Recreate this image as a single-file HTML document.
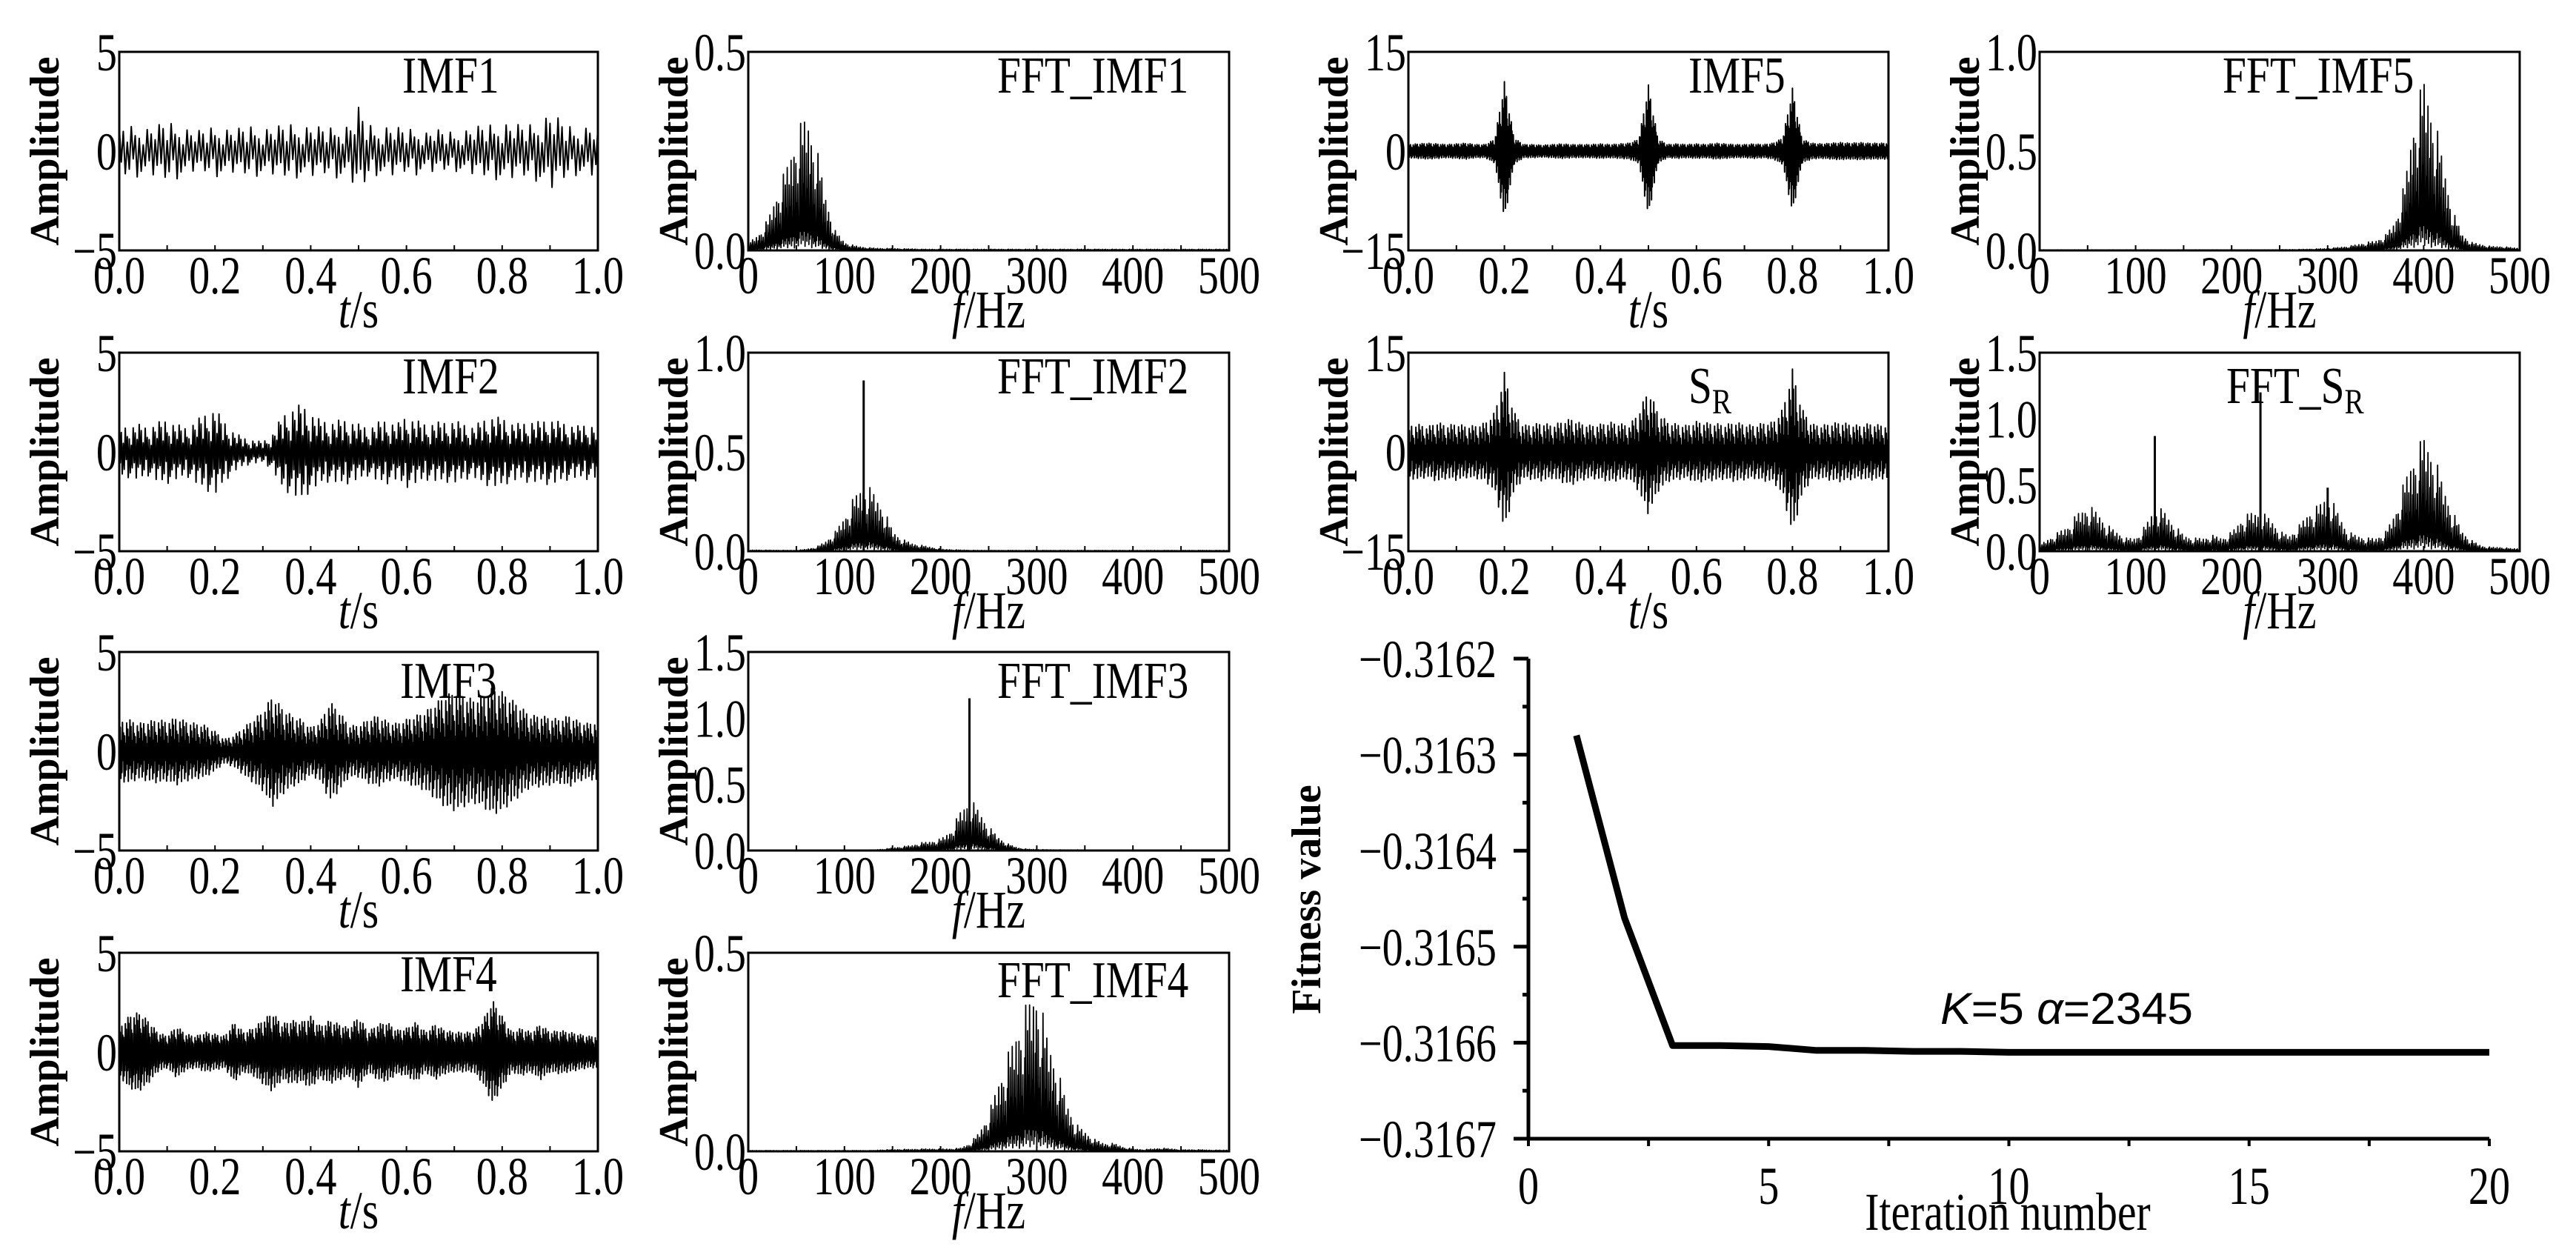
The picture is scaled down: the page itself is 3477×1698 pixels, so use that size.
<!DOCTYPE html>
<html><head><meta charset="utf-8"><style>
html,body{margin:0;padding:0;background:#fff}
svg{display:block}
text{font-family:"Liberation Serif",serif;fill:#000}
</style></head><body>
<svg id="fig" width="3477" height="1698" viewBox="0 0 3477 1698" xmlns="http://www.w3.org/2000/svg"></svg>
<script>
// ---- time-domain envelopes (t = 0..1, step 0.02), amplitude units ----
const envIMF1=[1.2,1.3,1.3,1.2,1.3,1.5,1.4,1.2,1.0,1.1,1.3,1.2,1.1,1.2,1.3,1.2,1.2,1.3,1.4,1.3,1.3,1.2,1.2,1.4,1.3,2.2,1.4,1.2,1.3,1.2,1.1,1.2,1.0,1.1,1.0,1.0,1.1,1.2,1.3,1.4,1.5,1.4,1.3,1.4,1.6,2.0,1.6,1.3,1.2,1.3,1.2];
const envIMF2=[1.2,1.3,1.4,1.2,1.5,1.6,1.4,1.2,1.6,1.9,2.2,1.5,1.0,0.7,0.6,0.5,0.9,1.8,2.2,2.4,2.0,1.6,1.5,1.6,1.6,1.4,1.2,1.5,1.6,1.4,1.8,1.6,1.4,1.5,1.5,1.6,1.4,1.3,1.6,1.8,1.7,1.5,1.4,1.6,1.5,1.7,1.5,1.4,1.3,1.4,1.3];
const envIMF3=[1.5,1.6,1.4,1.5,1.6,1.5,1.7,1.5,1.4,1.3,1.0,0.6,0.8,1.2,1.6,2.0,2.8,2.2,1.8,1.6,1.2,1.5,2.5,2.0,1.3,1.3,1.6,1.8,1.5,1.4,1.6,1.8,2.0,2.4,2.8,3.0,2.8,2.6,2.8,3.2,3.0,2.6,2.2,1.8,1.8,1.7,1.6,1.8,1.5,1.4,1.5];
const envIMF4=[1.2,1.8,2.0,1.6,1.0,0.8,1.3,0.9,0.8,1.0,0.9,0.8,1.5,1.0,1.2,1.6,2.0,1.4,1.6,1.5,1.8,1.3,1.6,1.4,1.2,1.8,1.0,1.4,1.5,1.1,1.2,1.5,1.0,1.4,1.1,1.0,1.0,1.0,1.6,2.6,1.8,1.0,1.2,1.0,1.4,1.0,1.1,1.0,0.9,0.8,0.8];
const envIMF5=[1.0,1.1,1.2,1.1,1.0,1.1,1.2,1.0,1.0,1.8,10.5,2.0,1.0,1.0,0.9,1.0,1.1,1.0,1.0,1.0,1.1,1.0,1.1,1.2,1.8,10.0,1.8,1.0,1.1,1.0,1.1,1.0,1.2,1.1,1.0,1.0,1.1,1.0,1.2,2.0,9.5,1.8,1.2,1.1,1.2,1.3,1.2,1.3,1.2,1.2,1.2];
const envSR=[4.0,4.2,3.8,4.5,4.0,4.3,3.9,4.0,4.4,6.0,12.0,6.0,4.0,4.2,4.4,4.0,4.6,5.0,4.3,4.0,4.2,4.5,4.3,4.0,6.0,9.5,6.0,4.5,4.2,4.0,4.6,4.4,4.3,4.1,4.5,4.2,4.0,4.4,4.5,6.5,12.5,6.5,4.2,4.0,4.3,4.5,4.2,4.0,4.3,4.1,4.0];
// ---- spectra envelopes (f = 0..500 Hz, step 10) ----
const specIMF1=[0.02,0.04,0.08,0.15,0.22,0.3,0.35,0.27,0.14,0.05,0.02,0.012,0.008,0.006,0.005,0.005,0.004,0.004,0.003,0.003,0.003,0.003,0.003,0.003,0.003,0.003,0.003,0.003,0.003,0.003,0.003,0.003,0.003,0.003,0.003,0.003,0.003,0.003,0.003,0.003,0.003,0.003,0.003,0.003,0.003,0.003,0.003,0.003,0.003,0.003,0.003];
const specIMF2=[0.005,0.006,0.005,0.005,0.004,0.004,0.01,0.02,0.05,0.1,0.18,0.28,0.35,0.3,0.22,0.1,0.06,0.04,0.03,0.02,0.01,0.008,0.006,0.005,0.004,0.004,0.004,0.004,0.004,0.004,0.004,0.004,0.004,0.004,0.004,0.004,0.004,0.004,0.004,0.004,0.004,0.004,0.004,0.004,0.004,0.004,0.004,0.004,0.004,0.004,0.004];
const specIMF3=[0.003,0.003,0.003,0.003,0.003,0.003,0.003,0.003,0.003,0.003,0.003,0.003,0.003,0.005,0.01,0.02,0.03,0.04,0.06,0.07,0.09,0.15,0.3,0.4,0.3,0.18,0.1,0.05,0.02,0.01,0.008,0.006,0.005,0.005,0.005,0.004,0.004,0.004,0.003,0.003,0.003,0.003,0.003,0.003,0.003,0.003,0.003,0.003,0.003,0.003,0.003];
const specIMF4=[0.002,0.002,0.002,0.002,0.002,0.002,0.002,0.002,0.002,0.002,0.002,0.002,0.002,0.002,0.004,0.004,0.005,0.005,0.006,0.006,0.006,0.006,0.008,0.02,0.05,0.1,0.18,0.25,0.32,0.38,0.42,0.3,0.22,0.13,0.07,0.05,0.03,0.02,0.02,0.01,0.006,0.004,0.006,0.008,0.006,0.004,0.004,0.004,0.003,0.003,0.003];
const specIMF5=[0.003,0.003,0.003,0.003,0.003,0.003,0.003,0.003,0.003,0.003,0.003,0.003,0.003,0.003,0.003,0.003,0.003,0.003,0.003,0.003,0.003,0.003,0.003,0.003,0.003,0.004,0.004,0.005,0.006,0.008,0.01,0.015,0.02,0.03,0.04,0.05,0.08,0.15,0.35,0.7,0.88,0.7,0.45,0.2,0.08,0.04,0.03,0.02,0.02,0.015,0.01];
const specSR=[0.05,0.1,0.15,0.2,0.3,0.35,0.3,0.2,0.15,0.1,0.1,0.2,0.35,0.3,0.2,0.12,0.1,0.1,0.12,0.1,0.15,0.25,0.3,0.3,0.25,0.15,0.12,0.2,0.3,0.35,0.45,0.3,0.15,0.12,0.1,0.1,0.15,0.3,0.55,0.75,0.88,0.75,0.5,0.3,0.15,0.08,0.04,0.03,0.03,0.02,0.02];
const spikeFreqIMF2=[120], spikeAmpIMF2=[0.86];
const spikeFreqIMF3=[230], spikeAmpIMF3=[1.15];
const spikeFreqSR=[120,230,300], spikeAmpSR=[0.87,1.2,0.48];
// ---- fitness curve ----
const iterations=[1,2,3,4,5,6,7,8,9,10,11,12,13,14,15,16,17,18,19,20];
const fitness=[-0.31628,-0.31647,-0.316603,-0.316603,-0.316604,-0.316608,-0.316608,-0.316609,-0.316609,-0.31661,-0.31661,-0.31661,-0.31661,-0.31661,-0.31661,-0.31661,-0.31661,-0.31661,-0.31661,-0.31661];
const fitTicks=[-0.3162,-0.3163,-0.3164,-0.3165,-0.3166,-0.3167];
const fitTickLabels=["\u22120.3162","\u22120.3163","\u22120.3164","\u22120.3165","\u22120.3166","\u22120.3167"];
const iterTicks=[0,5,10,15,20];
const timeTicks=[0,0.2,0.4,0.6,0.8,1.0];
const timeTickLabels=["0.0","0.2","0.4","0.6","0.8","1.0"];
const freqTicks=[0,100,200,300,400,500];
const freqTickLabels=["0","100","200","300","400","500"];

const NS="http://www.w3.org/2000/svg";
const svg=document.getElementById('fig');
function mk(tag,attrs,parent){const e=document.createElementNS(NS,tag);for(const k in attrs)e.setAttribute(k,attrs[k]);(parent||svg).appendChild(e);return e;}
// condensed text: place at (x,y) with horizontal compression
function ctxt(html,x,y,size,anchor,parent,sx,rot){
  const e=mk('text',{x:0,y:0,'font-size':size,'text-anchor':anchor||'start',
    transform:`translate(${x},${y})`+(rot?` rotate(${rot})`:'')+` scale(${sx||0.8},1)`},parent);
  e.innerHTML=html;return e;}
const jit=[1,-0.45,0.8,-0.9,0.35,-0.7,0.95,-0.3,0.6,-1,0.5,-0.8,0.25,-0.6,0.9,-0.4,0.7,-0.95,0.45,-0.55];
const sj=[1,0.35,0.8,0.5,0.95,0.2,0.7,0.45,0.9,0.3,0.6,0.85,0.15,0.75,0.4,0.55,0.25,0.65];
function interp(arr,frac){const p=frac*(arr.length-1);const i=Math.floor(p);const f=p-i;if(i>=arr.length-1)return arr[arr.length-1];return arr[i]*(1-f)+arr[i+1]*f;}

function panel(o){
  const g=mk('g',{});
  
  
  const X=v=>o.x+(v-o.xmin)/(o.xmax-o.xmin)*o.w;
  const Y=v=>o.y+o.h-(v-o.ymin)/(o.ymax-o.ymin)*o.h;
  let d='';
  if(o.type==='time'){
    const N=o.n||700;
    for(let i=0;i<=N;i++){const fr=i/N;const v=interp(o.env,fr)*jit[i%jit.length];d+=(i?'L':'M')+X(fr).toFixed(1)+' '+Y(v).toFixed(1);}
  } else {
    for(let f=0;f<=500;f++){const base=interp(o.env,f/500);const v=base*sj[f%sj.length];d+=(f?'L':'M')+X(f).toFixed(1)+' '+Y(v*0.15).toFixed(1)+'L'+X(f+0.5).toFixed(1)+' '+Y(v).toFixed(1);}
  }
  const s=mk('path',{d:d,fill:'none',stroke:'#000','stroke-width':o.type==='time'?2:1.8,'stroke-linejoin':'round'},g);
  
  
  if(o.sf){o.sf.forEach((f,k)=>{const l=mk('line',{x1:X(f),x2:X(f),y1:Y(0),y2:Y(o.sa[k]),stroke:'#000','stroke-width':3},g);
    
    });}
  const b=mk('rect',{x:o.x,y:o.y,width:o.w,height:o.h,fill:'none',stroke:'#000','stroke-width':3},g);
  
  
  const step=o.type==='time'?0.1:50;
  for(let v=o.xmin;v<=o.xmax+1e-9;v+=step){mk('line',{x1:X(v),x2:X(v),y1:o.y+o.h,y2:o.y+o.h-7,stroke:'#000','stroke-width':2},g);}
  o.xt.forEach((v,k)=>{const t=ctxt(o.xl[k],X(v),o.y+o.h+58,72,'middle',g,0.78);
    
    });
  o.yt.forEach((v,k)=>{const t=ctxt(o.yl[k],o.x-3,Y(v)+25,72,'end',g,0.78);
    
    });
  const xl=ctxt(o.type==='time'?'<tspan font-style="italic">t</tspan>/s':'<tspan font-style="italic">f</tspan>/Hz',o.x+o.w/2,o.y+o.h+104,72,'middle',g,0.8);
  
  
  const yl=mk('text',{x:0,y:0,'font-size':56,'font-weight':'bold','text-anchor':'middle',transform:`translate(${o.x-82},${o.y+o.h/2}) rotate(-90)`},g);
  yl.textContent='Amplitude';
  
  
  const tt=ctxt(o.title,o.tx,o.y+o.ty,70,'start',g,0.82);
  
  
}
const cols=[161,1010,1901,2753], widths=[646,649,648,648], rows=[70,476,880,1286], H=268;
function tp(c,r,name,env,ymax,yt,yl,title,tx,ty,sf,sa,n){
  const time=(c===0||c===2);
  panel({name:name,x:cols[c],y:rows[r],w:widths[c],h:H,type:time?'time':'freq',env:env,n:n,
    xmin:0,xmax:time?1:500,ymin:time?-ymax:0,ymax:ymax,
    xt:time?timeTicks:freqTicks,xl:time?timeTickLabels:freqTickLabels,yt:yt,yl:yl,title:title,tx:tx,ty:ty,sf:sf,sa:sa});
}
tp(0,0,'imf1-panel',envIMF1,5,[5,0,-5],['5','0','\u22125'],'IMF1',543,55,null,null,240);
tp(0,1,'imf2-panel',envIMF2,5,[5,0,-5],['5','0','\u22125'],'IMF2',543,55,null,null,480);
tp(0,2,'imf3-panel',envIMF3,5,[5,0,-5],['5','0','\u22125'],'IMF3',540,62,null,null,900);
tp(0,3,'imf4-panel',envIMF4,5,[5,0,-5],['5','0','\u22125'],'IMF4',540,52,null,null,1100);
tp(1,0,'fft-imf1-panel',specIMF1,0.5,[0.5,0],['0.5','0.0'],'FFT_IMF1',1346,55);
tp(1,1,'fft-imf2-panel',specIMF2,1.0,[1.0,0.5,0],['1.0','0.5','0.0'],'FFT_IMF2',1346,55,spikeFreqIMF2,spikeAmpIMF2);
tp(1,2,'fft-imf3-panel',specIMF3,1.5,[1.5,1.0,0.5,0],['1.5','1.0','0.5','0.0'],'FFT_IMF3',1346,62,spikeFreqIMF3,spikeAmpIMF3);
tp(1,3,'fft-imf4-panel',specIMF4,0.5,[0.5,0],['0.5','0.0'],'FFT_IMF4',1346,60);
tp(2,0,'imf5-panel',envIMF5,15,[15,0,-15],['15','0','\u221215'],'IMF5',2279,55,null,null,1400);
tp(2,1,'sr-panel',envSR,15,[15,0,-15],['15','0','\u221215'],'S<tspan font-size="48" dy="14">R</tspan>',2279,68,null,null,900);
tp(3,0,'fft-imf5-panel',specIMF5,1.0,[1.0,0.5,0],['1.0','0.5','0.0'],'FFT_IMF5',3000,55);
tp(3,1,'fft-sr-panel',specSR,1.5,[1.5,1.0,0.5,0],['1.5','1.0','0.5','0.0'],'FFT_S<tspan font-size="48" dy="14">R</tspan>',3005,68,spikeFreqSR,spikeAmpSR);

// fitness chart
(function(){
  const g=mk('g',{});
  
  
  const x0=2063,x1=3360,yTop=889,yBot=1537;
  const X=v=>x0+v/20*(x1-x0);
  const Y=v=>yBot-(v-(-0.3167))/0.0005*(yBot-yTop);
  let d='';iterations.forEach((it,i)=>{d+=(i?'L':'M')+X(it).toFixed(1)+' '+Y(fitness[i]).toFixed(1);});
  const l=mk('path',{d:d,fill:'none',stroke:'#000','stroke-width':9,'stroke-linejoin':'round'},g);
  
  
  mk('line',{x1:x0,x2:x0,y1:yTop,y2:yBot,stroke:'#000','stroke-width':5},g);
  mk('line',{x1:x0,x2:x1,y1:yBot,y2:yBot,stroke:'#000','stroke-width':5},g);
  fitTicks.forEach((v,k)=>{mk('line',{x1:x0-20,x2:x0,y1:Y(v),y2:Y(v),stroke:'#000','stroke-width':5},g);
    const t=ctxt(fitTickLabels[k],2020,Y(v)+25,72,'end',g,0.78);
    
    
    if(k<fitTicks.length-1)mk('line',{x1:x0-8,x2:x0,y1:Y(v-0.00005),y2:Y(v-0.00005),stroke:'#000','stroke-width':5},g);});
  for(let v=0;v<=20;v+=2.5)mk('line',{x1:X(v),x2:X(v),y1:yBot,y2:yBot+10,stroke:'#000','stroke-width':4},g);
  iterTicks.forEach(v=>{const t=ctxt(String(v),X(v),1625,72,'middle',g,0.78);
    
    });
  const xt=ctxt('Iteration number',2710,1660,72,'middle',g,0.8);
  
  
  const yt=mk('text',{x:0,y:0,'font-size':56,'font-weight':'bold','text-anchor':'middle',transform:'translate(1782,1214) rotate(-90)'},g);
  yt.textContent='Fitness value';
  
  
  const an=mk('text',{x:2619,y:1382,'font-size':60,textLength:341,lengthAdjust:'spacingAndGlyphs',style:'font-family:"Liberation Sans",sans-serif'},g);
  an.innerHTML='<tspan font-style="italic">K</tspan>=5 <tspan font-style="italic">α</tspan>=2345';
  
  
})();
</script>
</body></html>
